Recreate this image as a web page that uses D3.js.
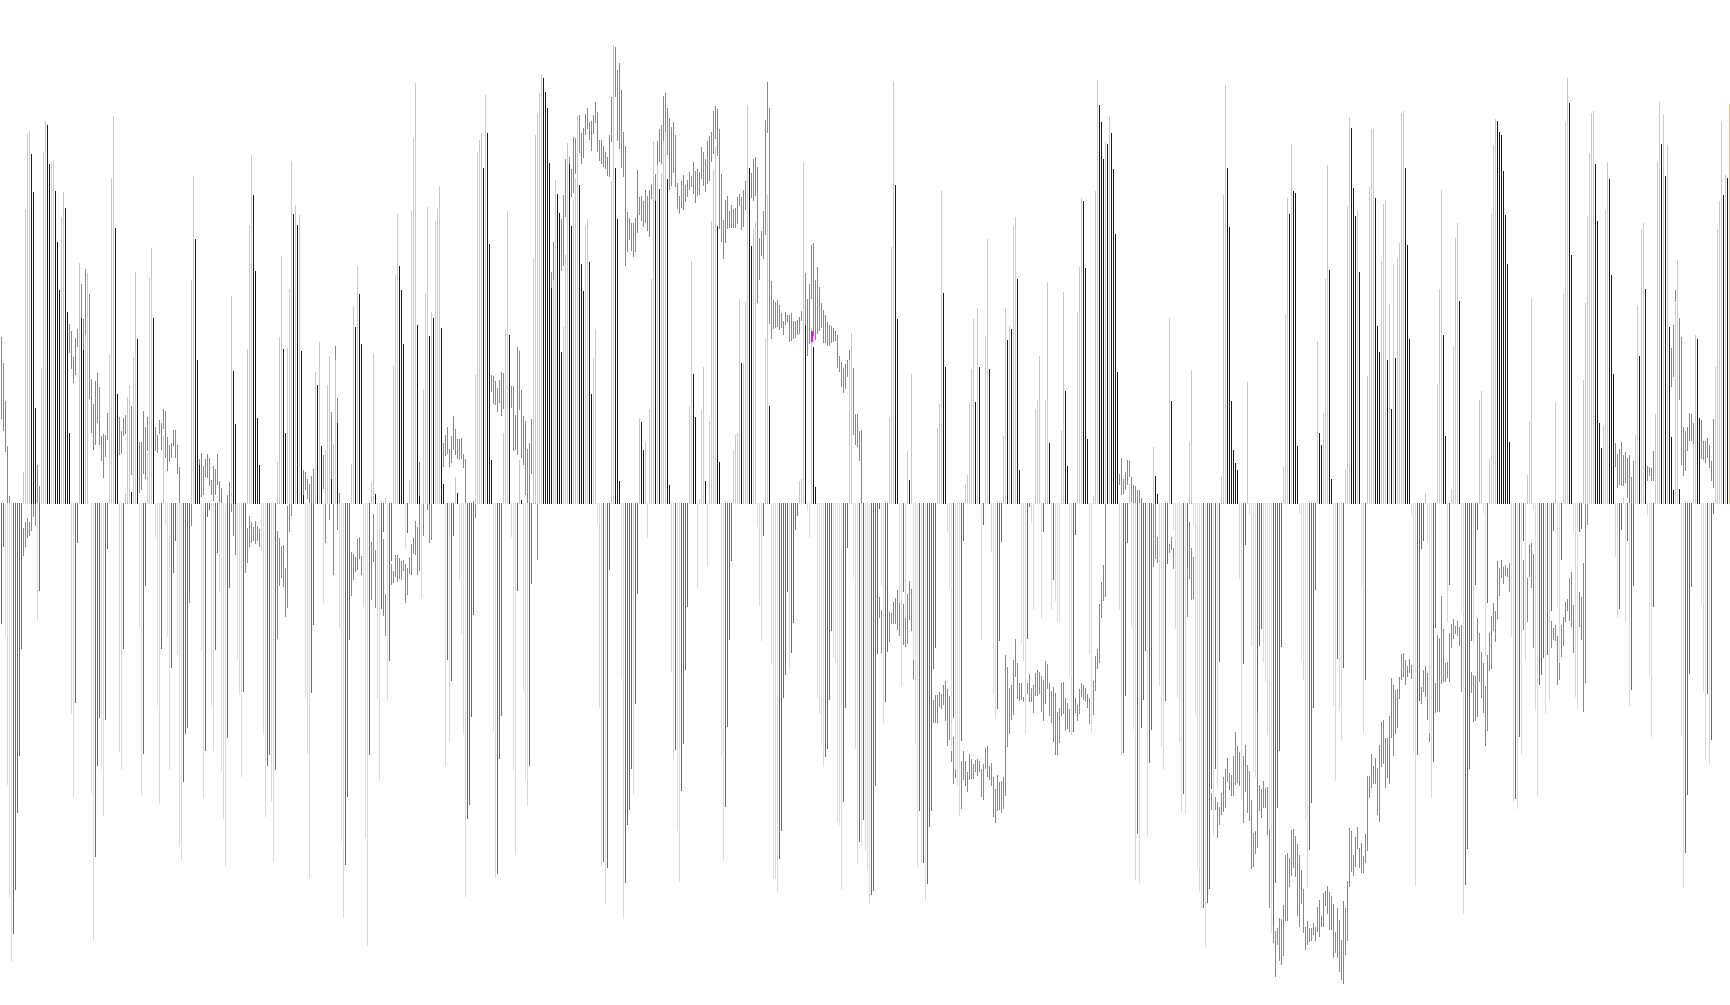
<!DOCTYPE html>
<html><head><meta charset="utf-8">
<script src="https://cdn.jsdelivr.net/npm/d3@7/dist/d3.min.js"></script>
<style>html,body{margin:0;padding:0;background:#fff}svg{display:block}</style></head>
<body><svg id="c" width="1730" height="1005"></svg>
<script>
// Readings per 108-column section, flat lists. top/bottom: column, reading. range: column, high, low.
const frameHeights=[930,930,930,930,930,960,930,930];
const top0=[11,728,12,285,13,157,14,153,15,192,16,256,17,620,20,553,21,189,22,137,23,143,24,209,25,205,26,202,27,255,28,341,29,422,30,298,31,256,32,283,33,458,34,663,39,376,40,468,41,523,42,497,43,392,54,531,55,233,56,128,57,317,58,597,62,764,63,602,64,582,65,762,66,534,67,391,68,504,73,697,74,401,75,351,76,469,81,668,95,405,96,229,97,336,98,540,99,716];
const bottom0=[0,985,1,855,2,1007,3,1256,4,1445,5,1555,6,1508,7,1433,8,1303,9,1207,10,1027,18,980,19,929,35,1136,36,1276,37,1118,38,848,45,1270,46,1519,47,1377,48,1224,49,1143,50,1229,51,1308,52,1146,53,858,59,1200,60,1231,61,1027,69,991,70,1273,71,1204,72,921,77,838,78,1121,79,1288,80,1027,82,818,83,1007,84,1231,85,1059,86,899,87,845,88,1037,89,1361,90,1385,91,1251,92,1170,93,1160,94,930,100,1030,101,1278,102,1199,103,804,104,793,105,1121,106,1199,107,1028];
const range0=[0,501,639,1,545,659,2,609,695,3,685,781,4,769,781,11,823,870,12,813,855,13,806,840,14,813,836,15,781,828,16,781,804,17,781,820,18,717,781,19,752,781,34,479,528,35,491,555,36,534,577,37,502,565,38,487,518,40,411,468,41,470,523,42,386,497,44,428,605,45,572,663,46,614,691,47,575,683,48,561,646,49,585,682,50,668,710,51,664,738,52,666,703,53,629,674,59,636,700,60,660,698,61,637,668,62,632,664,65,617,733,69,678,764,70,678,759,71,626,733,72,652,740,73,636,693,77,652,693,78,666,696,79,641,664,80,646,691,81,622,655,82,626,706,83,669,727,84,683,712,85,679,705,86,658,685,87,658,705,88,683,732,89,720,781,94,920,948,95,781,819,99,706,716,100,696,771,101,718,767,102,707,737,103,698,738,104,705,752,105,742,767,106,718,777,107,723,767];
const top1=[7,432,8,558,9,647,15,521,16,312,17,194,18,261,19,389,20,637,21,717,30,712,31,501,32,364,33,521,34,663,35,519,36,420,37,204,38,293,39,278,40,312,41,295,42,524,43,767,49,560,50,582,51,509,52,685,54,691,55,582,56,533,57,740,58,681,59,540,60,646,67,715,68,448,69,484,70,381,71,428,72,513,77,745,78,528,79,765,84,772,88,550,89,396,90,293,91,381,92,422,93,513,96,742,97,288,98,165,99,72,100,481,101,769,103,588,104,427,105,282,106,499,107,459];
const bottom1=[0,865,1,931,2,1233,3,1313,4,1395,5,1177,6,924,10,1044,11,1105,12,1243,13,1099,14,880,22,862,23,1172,24,1310,25,1224,26,1206,27,1285,28,1386,29,1231,44,1108,45,1204,46,1413,47,1101,48,986,53,949,61,991,62,1351,63,1480,64,1391,65,1276,66,1012,73,956,74,1345,75,1528,76,1206,80,1111,81,1248,82,960,83,830,85,1113,86,1047,87,878,94,857,95,831,102,941];
const range1=[0,698,750,1,744,780,2,755,781,5,767,781,6,745,781,7,781,796,8,781,836,9,781,869,14,880,899,15,823,882,16,803,856,17,813,848,18,821,845,19,811,850,20,820,846,21,824,855,30,828,1010,31,840,921,32,853,907,33,851,921,34,890,973,35,786,958,36,781,830,37,781,803,43,725,767,44,728,759,45,741,774,46,749,781,47,735,781,48,723,781,53,700,758,54,781,848,56,781,809,57,627,740,58,781,902,59,516,540,60,604,826,61,764,781,67,863,937,68,866,909,69,872,898,70,841,894,71,838,875,72,870,902,77,846,944,78,799,880,79,860,958,83,841,971,84,934,1005,87,883,919,88,895,915,89,868,905,90,868,914,91,873,909,92,878,910,93,877,895,94,883,949,95,891,937,96,872,901,97,850,903,98,840,867,99,811,868,100,821,902,101,712,896,103,781,836,105,781,792,106,781,848,107,781,843];
const top2=[0,469,1,305,2,283,3,246,4,486,5,749,11,737,12,764,21,565,22,189,23,168,24,156,25,216,26,93,27,157,28,344,29,708,35,663,36,489,37,288,38,497,43,708,44,776,50,369,51,160,52,125,53,89,54,57,55,64,56,88,57,115,58,207,59,418,60,405,61,236,62,260,63,292,64,526,65,484,66,363,67,174,68,209,69,314,70,270,71,233,72,128,73,244,74,378,75,423,76,314,77,302,78,374,79,597,80,536,81,487,89,238,90,8,91,216,92,302,93,744,103,637,104,644,105,691,106,678];
const bottom2=[6,1224,7,1045,8,1184,9,1081,10,836,13,912,14,1001,15,1172,16,1445,17,1313,18,1290,19,1141,20,969,30,1165,31,1413,32,1406,33,1212,34,1140,39,838,40,1229,41,1374,42,929,45,1098,46,1248,47,1291,48,1224,49,917,82,816,83,1126,84,1393,85,1386,86,1457,87,1396,88,894,94,1077,95,1482,96,1421,97,1324,98,1298,99,1229,100,1273,101,1120,102,934,107,840];
const range2=[5,680,720,6,666,701,7,652,697,8,689,720,9,668,713,10,634,691,11,656,700,12,673,706,13,673,709,14,671,706,15,698,722,16,706,781,20,778,781,21,781,806,29,565,593,30,567,615,31,575,615,32,587,627,33,573,612,34,560,634,35,561,622,39,583,620,40,583,693,41,632,691,42,518,700,43,524,624,44,590,705,45,634,716,46,642,767,47,690,781,48,679,781,49,639,732,52,781,877,59,391,418,60,341,405,64,302,390,65,261,381,66,201,298,68,197,209,69,217,265,70,164,258,71,165,226,73,126,190,74,157,209,75,148,199,76,125,160,77,115,150,78,139,169,79,137,187,80,126,158,81,105,140,82,121,189,83,168,204,84,169,210,85,178,214,86,189,217,87,197,229,88,160,230,89,96,172,91,12,96,92,51,170,93,39,184,94,85,216,95,155,231,96,179,381,97,290,357,98,300,337,99,309,356,100,309,366,101,300,358,102,219,325,103,265,295,104,263,305,105,271,314,106,253,309,107,263,322];
const top3=[0,622,1,403,2,170,3,271,4,210,5,251,6,225,7,170,8,155,9,234,10,750,20,617,21,373,22,563,23,636,25,774,26,624,27,551,28,744,30,642,31,305,32,219,33,180,34,314,35,712,42,693,43,666,44,663,45,437,46,545,47,544,48,442,49,110,50,216,51,347,52,318,53,307,58,504,59,261,60,617,75,744,76,740,77,206,78,481,81,485,82,517,83,754,100,540,101,494];
const bottom3=[11,1066,12,1214,13,1197,14,1333,15,1420,16,1266,17,1187,18,1062,19,956,24,924,29,887,36,1209,37,1383,38,1293,39,1158,40,1012,41,878,54,821,55,954,56,1013,57,836,61,1052,62,1413,63,1415,64,1436,65,1381,66,1333,67,1109,68,1071,69,931,70,1062,71,1034,72,983,73,826,74,803,79,794,80,840,84,1108,85,1137,86,1189,87,1226,88,1209,89,1195,90,1113,91,996,92,1042,93,1049,94,1318,95,1324,96,1433,97,1285,98,1126,99,856,102,905,103,1195,104,1389,105,1352,106,1359,107,1315];
const range3=[0,253,333,1,243,268,3,226,271,4,170,210,5,150,205,6,143,209,7,94,170,8,89,155,9,115,194,10,132,253,11,147,246,12,138,224,13,160,248,14,241,285,15,263,293,16,238,283,17,228,287,18,245,273,19,236,264,20,223,253,21,229,247,22,206,260,23,221,275,24,217,262,25,222,261,26,180,234,27,188,245,28,201,256,29,171,243,30,162,238,31,155,206,32,120,192,33,111,167,34,116,196,35,150,318,36,226,341,37,303,369,38,270,342,39,263,319,40,288,316,41,278,316,42,285,317,43,283,317,44,264,309,45,260,281,46,265,321,47,253,315,48,238,287,51,224,266,52,201,271,53,197,263,54,214,443,55,334,404,56,322,364,57,288,369,58,135,329,59,71,157,60,115,479,61,406,504,62,438,487,63,442,486,64,438,484,65,447,489,66,460,486,67,473,496,68,459,481,69,464,475,70,464,509,71,460,508,72,474,505,73,474,502,74,472,498,75,467,495,76,457,474,78,393,481,79,437,533,80,411,512,81,346,437,82,342,498,83,405,507,84,383,496,85,416,490,86,443,485,87,455,511,88,464,512,89,475,515,90,480,516,91,482,511,92,485,508,93,491,508,94,497,553,95,533,560,96,543,585,97,553,595,98,546,588,99,540,568,100,523,540,102,553,666,103,631,684,104,631,686,105,659,710,106,658,781];
const top4=[12,637,13,349,14,69,15,244,16,470,21,693,22,742,23,563,36,654,37,614,38,255,39,427,40,551,50,749,51,733,52,610,53,555,54,470,55,610,56,452,57,551,60,499,61,336,62,555,69,668,70,452,71,506,72,482,73,487,74,314,75,298,76,403,77,725,85,622,86,607,87,533,90,607,91,408,92,679,98,659,99,425,100,592,101,718,106,459,107,383];
const bottom4=[0,1367,1,1401,2,1457,3,1442,4,1435,5,1258,6,1035,7,790,8,919,9,1151,10,1116,11,1032,17,950,18,1089,19,931,20,975,24,1045,25,1187,26,1394,27,1300,28,1388,29,1387,30,1452,31,1423,32,1327,33,1300,34,1061,35,1025,41,830,42,926,43,1195,44,1143,45,1230,46,1258,47,1308,48,1182,49,845,58,1012,59,818,63,863,64,1104,65,1145,66,1128,67,1013,68,846,78,1017,79,1047,80,1170,81,1010,82,787,83,814,84,961,88,976,89,830,93,961,94,910,95,946,96,980,97,983,102,1074,103,1172,104,1167,105,835];
const range4=[7,939,975,8,961,1034,11,964,1032,12,964,1015,13,966,985,14,948,985,15,941,985,16,927,995,17,944,1005,19,951,1020,20,973,1023,21,934,1018,22,912,978,23,925,996,24,1045,1077,34,1113,1152,35,1104,1152,36,1104,1152,37,1099,1125,38,1103,1128,39,1087,1120,40,1081,1148,41,1094,1190,42,1106,1180,43,1199,1217,44,1175,1254,45,1185,1244,46,1232,1254,48,1216,1297,49,1199,1248,50,1216,1258,51,1234,1268,52,1204,1248,53,1212,1245,54,1220,1246,55,1214,1234,56,1212,1240,57,1216,1234,58,1229,1276,59,1220,1281,60,1194,1230,61,1191,1243,62,1224,1248,63,1219,1258,64,1243,1310,65,1263,1320,66,1239,1300,67,1251,1298,68,1249,1303,69,1243,1297,70,1037,1275,71,1057,1192,72,1092,1170,73,1087,1146,74,1045,1138,75,1010,1074,76,1050,1111,77,1084,1114,78,1084,1112,79,1107,1116,81,1084,1103,82,1069,1116,83,1092,1116,84,1087,1135,85,1067,1106,86,1062,1105,87,1066,1103,88,1072,1133,89,1079,1148,90,1047,1120,91,1052,1094,92,1084,1140,93,1098,1152,94,1091,1184,95,1101,1206,96,1133,1206,97,1126,1185,98,1084,1140,99,1082,1136,100,1109,1165,101,1118,1162,102,1128,1167,105,1109,1135,106,1121,1148,107,1094,1136];
const top5=[0,258,1,263,2,372,3,652,6,745,7,247,8,65,9,106,10,134,11,194,12,167,13,170,14,124,15,152,16,211,17,317,18,542,24,725,36,665,37,712,38,742,44,454,45,590,54,657,55,539,70,712,71,253,72,73,73,209,74,305,75,590,76,670,77,691,78,702,83,559,101,697,102,449,103,258,104,284,105,170,106,247,107,250];
const bottom5=[4,1003,5,1130,19,931,20,1168,21,1165,22,1071,23,822,25,959,26,1125,27,1372,28,1297,29,1377,30,1124,31,1078,32,998,33,1300,34,1181,35,1127,39,1055,40,1155,41,1193,42,1080,43,856,46,800,47,962,48,1073,49,1147,50,1263,51,1232,52,1264,53,860,56,792,57,1102,58,1352,59,1392,60,1419,61,1418,62,1481,63,1410,64,1387,65,1223,66,1302,67,1191,68,1222,69,1016,79,880,80,1240,81,1019,82,825,84,776,85,990,86,1196,87,1203,88,1100,89,990,90,962,91,1016,92,1047,93,1135,94,1290,95,1458,96,1447,97,1377,98,1254,99,1161,100,991];
const range5=[0,1050,1073,1,1054,1078,2,1058,1080,3,1068,1091,4,1075,1117,6,1047,1102,7,1006,1063,8,995,1027,9,921,1018,10,885,944,11,857,916,12,757,911,19,709,727,20,683,743,21,717,741,22,706,736,23,686,727,24,688,714,25,714,755,26,727,757,27,729,757,28,735,757,29,735,757,30,748,757,36,757,861,37,757,848,38,811,854,44,823,838,45,812,834,46,830,864,53,860,941,54,787,880,55,830,915,56,844,913,65,1230,1258,67,1236,1258,68,1245,1303,69,1253,1282,70,1230,1266,71,1204,1261,72,1191,1254,73,1173,1212,74,1197,1224,75,1200,1235,76,1169,1235,77,1130,1217,78,1153,1214,79,1163,1218,80,1220,1240,81,1169,1279,82,1151,1228,83,1184,1263,84,1194,1276,85,1241,1354,86,1296,1352,87,1292,1330,88,1100,1320,89,1217,1259,90,1224,1272,91,1210,1254,92,1221,1254,93,1220,1298,94,1290,1417,96,1447,1475,97,1455,1530,98,1451,1478,99,1434,1504,100,1436,1511,101,1413,1496,102,1331,1439,103,1328,1439,104,1336,1383,105,1290,1365,106,1288,1351,107,1300,1367];
const top6=[0,685,10,507,11,663,12,683,13,629,14,403,15,211,16,388,17,740,24,723,25,280,26,130,27,148,28,250,29,297,30,288,31,391,35,567,36,248,37,150,38,148,39,266,40,482,41,526,42,373,43,277,44,270,45,540,46,445,47,622,48,378,49,536,50,368,51,342,52,123,53,120,54,216,55,346,56,504,64,764,70,580,71,420,72,253,73,497,74,668,77,757,78,518,79,334,80,309,81,440,91,607,92,592,96,706,97,293,98,177,99,133,100,137,101,155,102,160,103,221,104,295,105,378,106,678];
const bottom6=[1,800,2,1047,3,1079,4,1317,5,1430,6,1366,7,1286,8,1126,9,927,18,1123,19,1249,20,1044,21,1131,22,1180,23,1059,32,924,33,1168,34,1079,57,801,58,1202,59,1426,60,1206,61,1115,62,858,63,845,65,848,66,1168,67,1278,68,1217,69,991,75,981,76,919,82,966,83,1474,84,1425,85,1364,86,1229,87,1013,88,1017,89,919,90,826,93,797,94,1039,95,949,107,1007];
const range6=[0,1356,1477,1,1374,1496,2,1399,1457,3,1431,1506,4,1495,1534,5,1485,1525,6,1497,1521,7,1497,1519,8,1489,1510,9,1496,1519,10,1462,1504,11,1450,1512,12,1477,1496,13,1438,1496,14,1435,1460,15,1427,1475,16,1436,1500,17,1444,1502,18,1457,1548,19,1504,1539,20,1463,1548,21,1483,1570,22,1517,1584,23,1452,1592,24,1464,1544,25,1418,1519,26,1329,1428,27,1334,1403,28,1374,1410,29,1344,1395,30,1327,1364,31,1362,1395,32,1354,1404,33,1376,1404,34,1339,1388,35,1241,1367,36,1241,1278,37,1204,1261,38,1224,1254,39,1211,1254,40,1227,1307,41,1189,1318,42,1150,1226,43,1146,1220,44,1177,1261,45,1177,1244,46,1140,1254,47,1076,1177,48,1087,1206,49,1096,1170,50,1095,1160,51,1074,1111,52,1035,1078,53,1034,1074,54,1045,1087,55,1056,1074,56,1044,1067,57,1054,1078,62,1091,1120,63,1062,1099,64,1055,1108,65,1067,1146,66,1168,1184,69,1084,1134,70,1003,1133,71,1008,1133,72,937,1086,73,993,1082,74,1050,1082,75,1049,1076,76,1000,1082,77,985,1025,78,977,1010,79,988,1001,80,980,1005,81,990,1022,82,986,1099,87,1066,1102,88,1070,1150,89,1072,1148,90,975,1142,91,1000,1082,92,1032,1110,93,1051,1135,94,1089,1190,95,1037,1165,96,1000,1064,97,971,1061,98,950,997,99,963,1015,100,878,975,101,890,937,102,877,908,103,888,916,104,886,905,105,890,905,106,882,931];
const top7=[7,733,8,642,9,435,21,610,25,428,26,138,27,64,28,106,29,362,35,573,36,443,37,297,38,191,39,123,40,120,41,209,42,305,43,646,44,688,45,651,46,287,47,206,48,234,49,396,50,563,55,772,61,666,62,447,63,533,64,319,65,309,66,420,71,630,72,206,73,105,74,175,75,125,76,229,77,177,78,484,79,669,80,759,81,443,82,371,83,757,90,681,91,497,92,504,93,637,101,551,102,319,103,271,104,139,105,261,106,228,107,233,108,108];
const bottom7=[0,1285,1,1279,2,1297,3,1175,4,1206,5,845,6,1045,10,792,11,1131,12,1275,13,1088,14,1071,15,1042,16,1136,17,1037,18,1113,19,963,20,828,22,958,23,1050,24,877,30,831,31,1108,32,1128,33,830,34,824,51,872,52,975,53,960,54,826,56,983,57,845,58,1123,59,1096,60,921,67,801,68,1072,69,1175,70,956,84,1173,85,1430,86,1371,87,1273,88,1069,89,922,94,953,95,1099,96,1214,97,1103,98,1222,99,1180,100,799];
const range7=[5,877,995,7,907,981,8,851,905,9,848,924,10,867,1025,15,1005,1042,19,980,1025,20,991,1012,21,986,1013,22,1005,1087,23,1027,1079,24,986,1040,25,973,1022,26,948,981,27,942,963,28,907,980,29,897,990,30,953,1034,33,931,990,34,939,1012,35,881,1133,36,781,1084,37,781,818,51,679,720,52,698,755,53,690,750,54,678,753,55,700,752,56,695,747,57,705,772,58,700,781,59,737,781,60,710,781,67,718,744,68,720,736,69,722,744,70,693,744,79,519,585,80,481,568,81,422,443,83,469,607,84,501,717,85,652,735,86,659,727,87,652,693,88,629,676,89,631,676,90,646,681,94,641,706,95,676,708,96,676,713,97,671,705,98,683,722,99,710,744,100,639,755];
const highlightColumn=[3,81,490,510];

const topSets=[top0,top1,top2,top3,top4,top5,top6,top7];
const bottomSets=[bottom0,bottom1,bottom2,bottom3,bottom4,bottom5,bottom6,bottom7];
const rangeSets=[range0,range1,range2,range3,range4,range5,range6,range7];
const sectionSize=108, columnCount=865, beforeFirstBottom=1100;

const frame=frameHeights.map(h=>d3.scaleLinear().domain([0,1568]).range([40,40+h]));
const x=d3.scaleLinear().domain([0,columnCount]).range([0,1730]);
const zero=503.5;
const colours={up:"#FFD700",down:"#0000E6",deeper:"#AFEEEE",shallower:"#1080F0",range:"#00E800",mark:"#FF00FF"};

function bars(sets){
  const out=[];
  sets.forEach((s,k)=>{for(let n=0;n<s.length;n+=2){
    out.push({i:sectionSize*k+s[n],y:frame[k](s[n+1])});
  }});
  return out;
}
function classify(list,seed,a,b){
  const m=new Map(list.map(d=>[d.i,Math.abs(d.y-zero)]));
  list.forEach(d=>{
    const prev=d.i===0?seed:(m.get(d.i-1)||0);
    d.c=Math.abs(d.y-zero)>=prev?a:b;
  });
  return list;
}
const topBars=classify(bars(topSets),0,colours.up,colours.down);
const bottomBars=classify(bars(bottomSets),frame[0](beforeFirstBottom)-zero,colours.deeper,colours.shallower);
const ranges=[];
rangeSets.forEach((s,k)=>{for(let n=0;n<s.length;n+=3){
  ranges.push({i:sectionSize*k+s[n],a:frame[k](s[n+1]),b:frame[k](s[n+2])});
}});

const svg=d3.select("#c").attr("shape-rendering","crispEdges");
svg.append("rect").attr("width",1730).attr("height",1005).attr("fill","#fff");
svg.append("g").selectAll("rect").data(ranges).join("rect")
  .attr("x",d=>x(d.i)+1).attr("width",1)
  .attr("y",d=>Math.round(d.a)).attr("height",d=>Math.max(1,Math.round(d.b-d.a)))
  .attr("fill",colours.range);
svg.append("g").selectAll("rect").data(topBars).join("rect")
  .attr("x",d=>x(d.i)+1).attr("width",1)
  .attr("y",d=>Math.round(d.y)).attr("height",d=>Math.round(zero+.5)-Math.round(d.y))
  .attr("fill",d=>d.c);
svg.append("g").selectAll("rect").data(bottomBars).join("rect")
  .attr("x",d=>x(d.i)+1).attr("width",1)
  .attr("y",503).attr("height",d=>Math.round(d.y)-503)
  .attr("fill",d=>d.c);
const [hs,hc,ha,hb]=highlightColumn;
svg.append("rect")
  .attr("x",x(sectionSize*hs+hc)+1).attr("width",2)
  .attr("y",frame[hs](ha)).attr("height",frame[hs](hb)-frame[hs](ha))
  .attr("fill",colours.mark);
</script></body></html>
